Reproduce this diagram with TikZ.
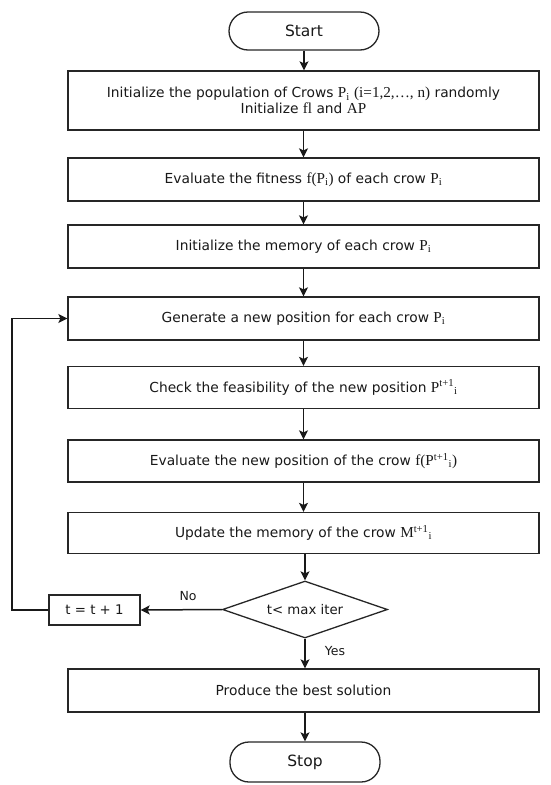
\documentclass[tikz,border=0pt]{standalone}
\usepackage{fontspec}
\setmainfont{DejaVu Sans}
\newfontfamily\srf[Scale=1.1]{Liberation Serif}
\usetikzlibrary{arrows.meta,shapes.geometric}
\newcommand{\sv}[1]{{\srf #1}}
\newcommand{\crowP}{\sv{P\textsubscript{i}}}
\begin{document}
\begin{tikzpicture}[x=1pt,y=-1pt,
  every node/.style={font=\fontsize{13.8}{14.5}\selectfont, text=black!90},
  procbox/.style={draw=black!85, line width=1.3pt, fill=white, minimum width=471pt, inner sep=2pt},
  termbox/.style={draw=black!85, line width=1.3pt, fill=white, rounded corners=19pt, minimum width=150pt, minimum height=38pt, font=\fontsize{15.5}{17}\selectfont},
  decbox/.style={draw=black!85, line width=1.3pt, fill=white, diamond, aspect=2.9, minimum width=165pt, minimum height=57pt, inner sep=0pt, font=\fontsize{13.3}{14}\selectfont},
  flow/.style={draw=black!90, line width=1.5pt, -{Stealth[length=9pt,width=9pt,inset=2pt]}},
  lbl/.style={font=\fontsize{12.5}{14}\selectfont}
]
\useasboundingbox (0,0) rectangle (550,785);

\node[termbox] (start) at (304,31) {Start};
\node[procbox, minimum height=59pt, align=center] (init) at (303.5,100.5)
  {Initialize the population of Crows \crowP\ \sv{(i=1,2,\dots, n)} randomly\\[1pt] Initialize \sv{fl} and \sv{AP}};
\node[procbox, minimum height=43pt] (eval) at (303.5,179.5) {Evaluate the fitness \sv{f(P\textsubscript{i})} of each crow \crowP};
\node[procbox, minimum height=43pt] (mem) at (303.5,246.5) {Initialize the memory of each crow \crowP};
\node[procbox, minimum height=43pt] (gen) at (303.5,318.5) {Generate a new position for each crow \crowP};
\node[procbox, minimum height=42pt] (check) at (303.5,387.5) {Check the feasibility of the new position \sv{P\textsuperscript{t+1}\textsubscript{i}}};
\node[procbox, minimum height=42pt] (evnew) at (303.5,461) {Evaluate the new position of the crow \sv{f(P\textsuperscript{t+1}\textsubscript{i})}};
\node[procbox, minimum height=41pt] (upd) at (303.5,533) {Update the memory of the crow \sv{M\textsuperscript{t+1}\textsubscript{i}}};
\node[decbox] (dec) at (305,609.5) {t< max iter};
\node[draw=black!85, line width=1.3pt, fill=white, minimum width=91pt, minimum height=30pt, font=\fontsize{13.3}{14}\selectfont] (inc) at (94.5,610) {t = t + 1};
\node[procbox, minimum height=43pt] (best) at (303.5,690.5) {Produce the best solution};
\node[termbox, minimum height=40pt] (stop) at (305,762) {Stop};

\coordinate (lb) at (12,610);
\coordinate (lt) at (12,318.5);

\draw[flow] (start) -- (init.north -| start);
\draw[flow] (init) -- (eval);
\draw[flow] (eval) -- (mem);
\draw[flow] (mem) -- (gen);
\draw[flow] (gen) -- (check);
\draw[flow] (check) -- (evnew);
\draw[flow] (evnew) -- (upd);
\draw[flow] (upd.south -| dec) -- (dec.north);
\draw[flow] (dec.west) -- (inc.east);
\draw[flow] (dec.south) -- (best.north -| dec);
\draw[flow] (best.south -| dec) -- (stop.north);
\draw[flow] (inc.west) -- (lb) -- (lt) -- (gen.west);

\node[lbl] (no) at (188,596) {No};
\node[lbl] (yes) at (335,651) {Yes};
\end{tikzpicture}
\end{document}
